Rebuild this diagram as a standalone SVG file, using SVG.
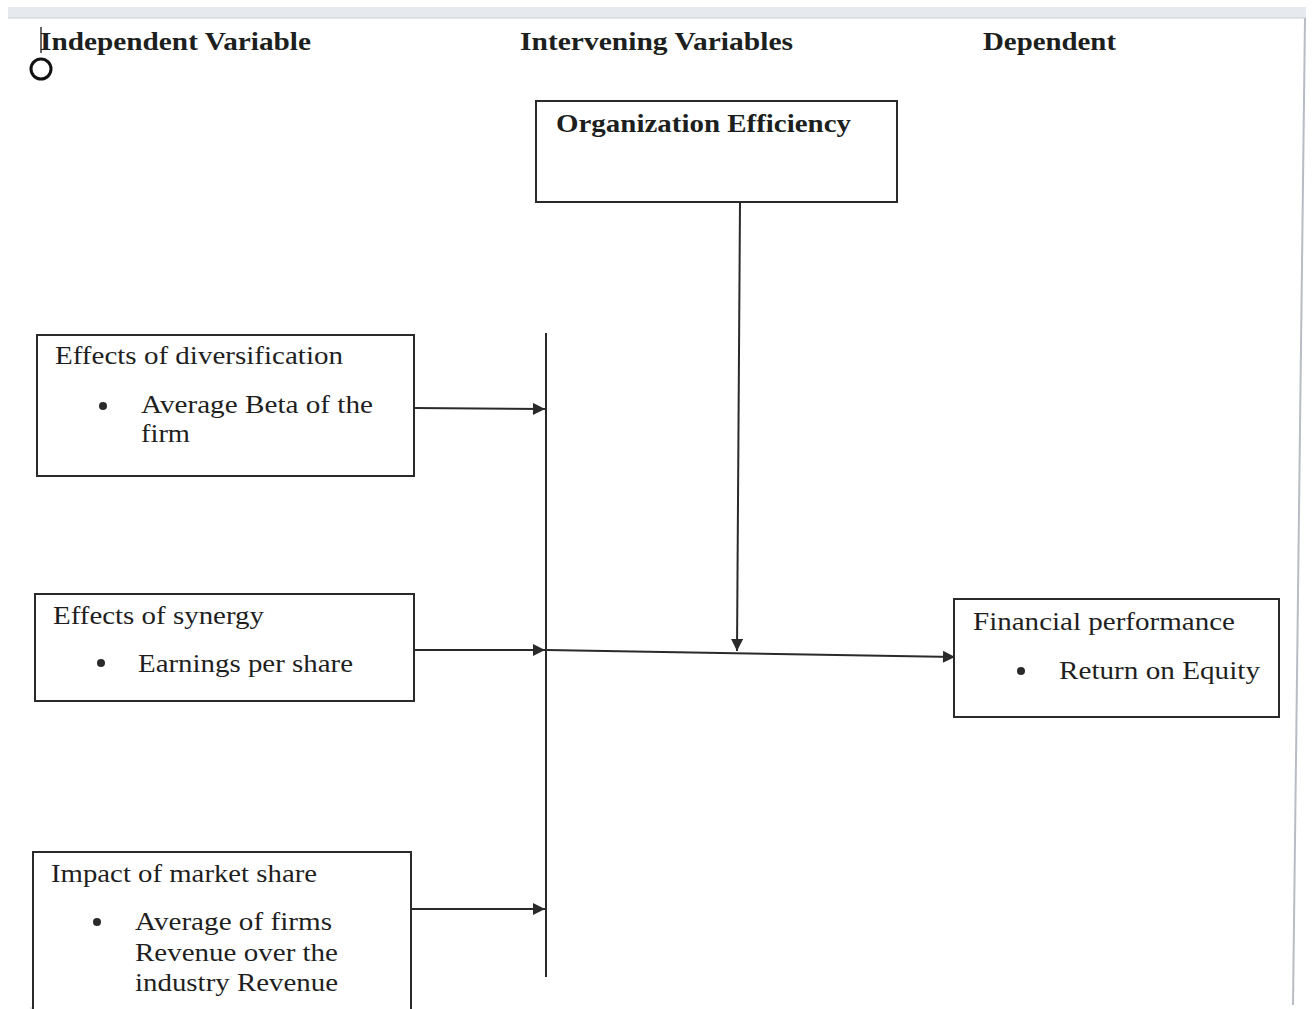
<svg xmlns="http://www.w3.org/2000/svg" width="1312" height="1009" viewBox="0 0 1312 1009">
<style>
.hd{font-family:"Liberation Serif",serif;font-weight:bold;font-size:26px;fill:#1c1f1e}
.tx{font-family:"Liberation Serif",serif;font-size:25px;fill:#1f1f1f}
.box{fill:#fff;stroke:#2a2a2a;stroke-width:2}
.ln{fill:none;stroke:#2a2a2a;stroke-width:2}
.bul{fill:#2a2a2a}
</style>
<defs>
<marker id="ah2" viewBox="0 0 10 10" refX="10" refY="5" markerWidth="13" markerHeight="12" markerUnits="userSpaceOnUse" orient="auto">
<path d="M0,0 L10,5 L0,10 z" fill="#2a2a2a"/>
</marker>
</defs>
<rect width="1312" height="1009" fill="#fff"/>
<g id="page">
<rect x="8" y="7" width="1298" height="11" fill="#e6e9ee"/>
<line x1="8" y1="18" x2="1306" y2="18" stroke="#c8ccd2" stroke-width="1"/>
<line x1="1305" y1="18" x2="1293" y2="1005" stroke="#b8bcc4" stroke-width="2"/>
<line x1="30" y1="1008" x2="410" y2="1008" stroke="#d0d0d0" stroke-width="1"/>
<line x1="41" y1="27" x2="41" y2="53" stroke="#333" stroke-width="1.5"/>
<circle cx="41" cy="69" r="10" fill="none" stroke="#111" stroke-width="3"/>
</g>
<g id="headers">
<text class="hd" x="40" y="50" textLength="271" lengthAdjust="spacingAndGlyphs">Independent Variable</text>
<text class="hd" x="520" y="50" textLength="273" lengthAdjust="spacingAndGlyphs">Intervening Variables</text>
<text class="hd" x="983" y="50" textLength="133" lengthAdjust="spacingAndGlyphs">Dependent</text>
</g>
<g id="org-efficiency">
<rect class="box" x="536" y="101" width="361" height="101"/>
<text class="hd" x="556" y="132" textLength="295" lengthAdjust="spacingAndGlyphs">Organization Efficiency</text>
</g>
<g id="diversification">
<rect class="box" x="37" y="335" width="377" height="141"/>
<text class="tx" x="55" y="364" textLength="288" lengthAdjust="spacingAndGlyphs">Effects of diversification</text>
<circle class="bul" cx="103" cy="406" r="4"/>
<text class="tx" x="141" y="413" textLength="232" lengthAdjust="spacingAndGlyphs">Average Beta of the</text>
<text class="tx" x="141" y="442" textLength="49" lengthAdjust="spacingAndGlyphs">firm</text>
</g>
<g id="synergy">
<rect class="box" x="35" y="594" width="379" height="107"/>
<text class="tx" x="53" y="624" textLength="211" lengthAdjust="spacingAndGlyphs">Effects of synergy</text>
<circle class="bul" cx="101" cy="663" r="4"/>
<text class="tx" x="138" y="672" textLength="215" lengthAdjust="spacingAndGlyphs">Earnings per share</text>
</g>
<g id="market-share">
<rect class="box" x="33" y="852" width="378" height="170"/>
<text class="tx" x="51" y="882" textLength="266" lengthAdjust="spacingAndGlyphs">Impact of market share</text>
<circle class="bul" cx="97" cy="922" r="4"/>
<text class="tx" x="135" y="930" textLength="197" lengthAdjust="spacingAndGlyphs">Average of firms</text>
<text class="tx" x="135" y="961" textLength="203" lengthAdjust="spacingAndGlyphs">Revenue over the</text>
<text class="tx" x="135" y="991" textLength="203" lengthAdjust="spacingAndGlyphs">industry Revenue</text>
</g>
<g id="financial-performance">
<rect class="box" x="954" y="599" width="325" height="118"/>
<text class="tx" x="973" y="630" textLength="262" lengthAdjust="spacingAndGlyphs">Financial performance</text>
<circle class="bul" cx="1021" cy="671" r="4"/>
<text class="tx" x="1059" y="679" textLength="201" lengthAdjust="spacingAndGlyphs">Return on Equity</text>
</g>
<g id="connectors">
<line class="ln" x1="546" y1="333" x2="546" y2="977"/>
<line class="ln" x1="740" y1="203" x2="737" y2="651" marker-end="url(#ah2)"/>
<line class="ln" x1="414" y1="408" x2="545" y2="409" marker-end="url(#ah2)"/>
<line class="ln" x1="414" y1="650" x2="545" y2="650" marker-end="url(#ah2)"/>
<line class="ln" x1="411" y1="909" x2="545" y2="909" marker-end="url(#ah2)"/>
<line class="ln" x1="547" y1="650" x2="955" y2="657" marker-end="url(#ah2)"/>
</g>
</svg>
